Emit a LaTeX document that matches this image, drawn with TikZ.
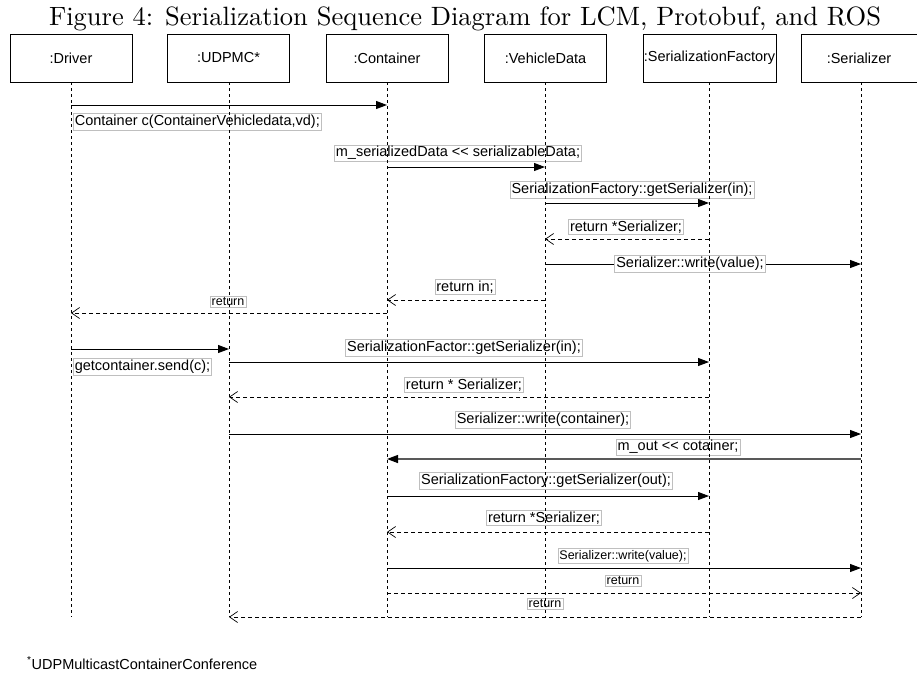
\documentclass[tikz,border=0pt]{standalone}
\usepackage{fontspec}
\setsansfont{Liberation Sans}
\usetikzlibrary{arrows.meta,calc}
\begin{document}
\begin{tikzpicture}[x=1pt,y=-1pt,
  objbox/.style={draw,line width=0.8pt,minimum width=122pt,minimum height=48pt,inner sep=0pt,font=\sffamily\fontsize{14.5}{16}\selectfont},
  life/.style={line width=0.9pt,dash pattern=on 3pt off 3pt},
  msg/.style={line width=1pt,-{Triangle[length=11pt,width=8pt]}},
  ret/.style={line width=0.8pt,dash pattern=on 4pt off 3pt,-{Straight Barb[length=8pt,width=11pt,line width=0.7pt]}},
  lbl/.style={draw=black!25,line width=0.6pt,fill=white,inner sep=1.5pt,font=\sffamily\fontsize{14.5}{16}\selectfont},
  slbl/.style={lbl,font=\sffamily\fontsize{12.5}{14}\selectfont}]
\useasboundingbox (0,0) rectangle (917,673);
\node[anchor=base,inner sep=0pt] (title) at (465,25) {\scalebox{2.65}{\rmfamily\fontsize{10}{12}\selectfont Figure 4: Serialization Sequence Diagram for LCM, Protobuf, and ROS}};
% objects
\node[objbox] (driver) at (71,58) {:Driver};
\node[objbox] (udpmc) at (228.5,58) {:UDPMC*};
\node[objbox] (container) at (387,58) {:Container};
\node[objbox] (vdata) at (545.5,58) {:VehicleData};
\node[objbox,minimum width=133pt] (sfac) at (709.5,58) {:SerializationFactory};
\node[objbox,minimum width=116pt] (ser) at (859,58) {:Serializer};
% lifeline coordinates
\coordinate (Ld) at (71,0);
\coordinate (Lu) at (229,0);
\coordinate (Lc) at (387,0);
\coordinate (Lv) at (545,0);
\coordinate (Lf) at (709,0);
\coordinate (Ls) at (861,0);
% messages
\draw[msg] ($(Ld)+(0,105)$) -- ($(Lc)+(0,105)$);
\node[lbl,anchor=west] (m1) at (73,122) {Container c(ContainerVehicledata,vd);};
\draw[msg] ($(Lc)+(0,167)$) -- ($(Lv)+(0,167)$);
\node[lbl] (m2) at (458,153) {m\_serializedData <{}< serializableData;};
\draw[msg] ($(Lv)+(0,203)$) -- ($(Lf)+(0,203)$);
\node[lbl] (m3) at (632,190) {SerializationFactory::getSerializer(in);};
\draw[ret] ($(Lf)+(0,239)$) -- ($(Lv)+(0,239)$);
\node[lbl] (m4) at (626,227) {return *Serializer;};
\draw[msg] ($(Lv)+(0,264)$) -- ($(Ls)+(0,264)$);
\node[lbl] (m5) at (690,264) {Serializer::write(value);};
\draw[ret] ($(Lv)+(0,300)$) -- ($(Lc)+(0,300)$);
\node[lbl] (m6) at (465,287) {return in;};
\draw[ret] ($(Lc)+(0,313)$) -- ($(Ld)+(0,313)$);
\node[slbl] (m7) at (228,302) {return};
\draw[msg] ($(Ld)+(0,349)$) -- ($(Lu)+(0,349)$);
\node[lbl,anchor=west] (m8) at (73,367) {getcontainer.send(c);};
\draw[msg] ($(Lu)+(0,362)$) -- ($(Lf)+(0,362)$);
\node[lbl] (m9) at (464,348) {SerializationFactor::getSerializer(in);};
\draw[ret] ($(Lf)+(0,397)$) -- ($(Lu)+(0,397)$);
\node[lbl] (m10) at (464,385) {return * Serializer;};
\draw[msg] ($(Lu)+(0,434)$) -- ($(Ls)+(0,434)$);
\node[lbl] (m11) at (543,420) {Serializer::write(container);};
\draw[line width=1.3pt,draw=black!65,-{Triangle[length=11pt,width=8pt,color=black]}] ($(Ls)+(0,459)$) -- ($(Lc)+(0,459)$);
\node[lbl] (m12) at (678,447) {m\_out <{}< cotainer;};
\draw[msg] ($(Lc)+(0,496)$) -- ($(Lf)+(0,496)$);
\node[lbl] (m13) at (546,481) {SerializationFactory::getSerializer(out);};
\draw[ret] ($(Lf)+(0,532)$) -- ($(Lc)+(0,532)$);
\node[lbl] (m14) at (544,518) {return *Serializer;};
\draw[msg] ($(Lc)+(0,568)$) -- ($(Ls)+(0,568)$);
\node[slbl] (m15) at (623,556) {Serializer::write(value);};
\draw[ret] ($(Lc)+(0,593)$) -- ($(Ls)+(0,593)$);
\node[slbl] (m16) at (623,581) {return};
\draw[ret] ($(Ls)+(0,617)$) -- ($(Lu)+(0,617)$);
\node[slbl] (m17) at (545,604) {return};
% lifelines on top
\foreach \o/\L in {driver/Ld,udpmc/Lu,container/Lc,vdata/Lv,sfac/Lf,ser/Ls}
  \draw[life] (\o.south -| \L) -- ($(\L)+(0,617)$);
% footnote
\node[anchor=west,inner sep=0pt,font=\sffamily\fontsize{14.5}{16}\selectfont] (fn) at (27,663) {\textsuperscript{*}UDPMulticastContainerConference};
\end{tikzpicture}
\end{document}
